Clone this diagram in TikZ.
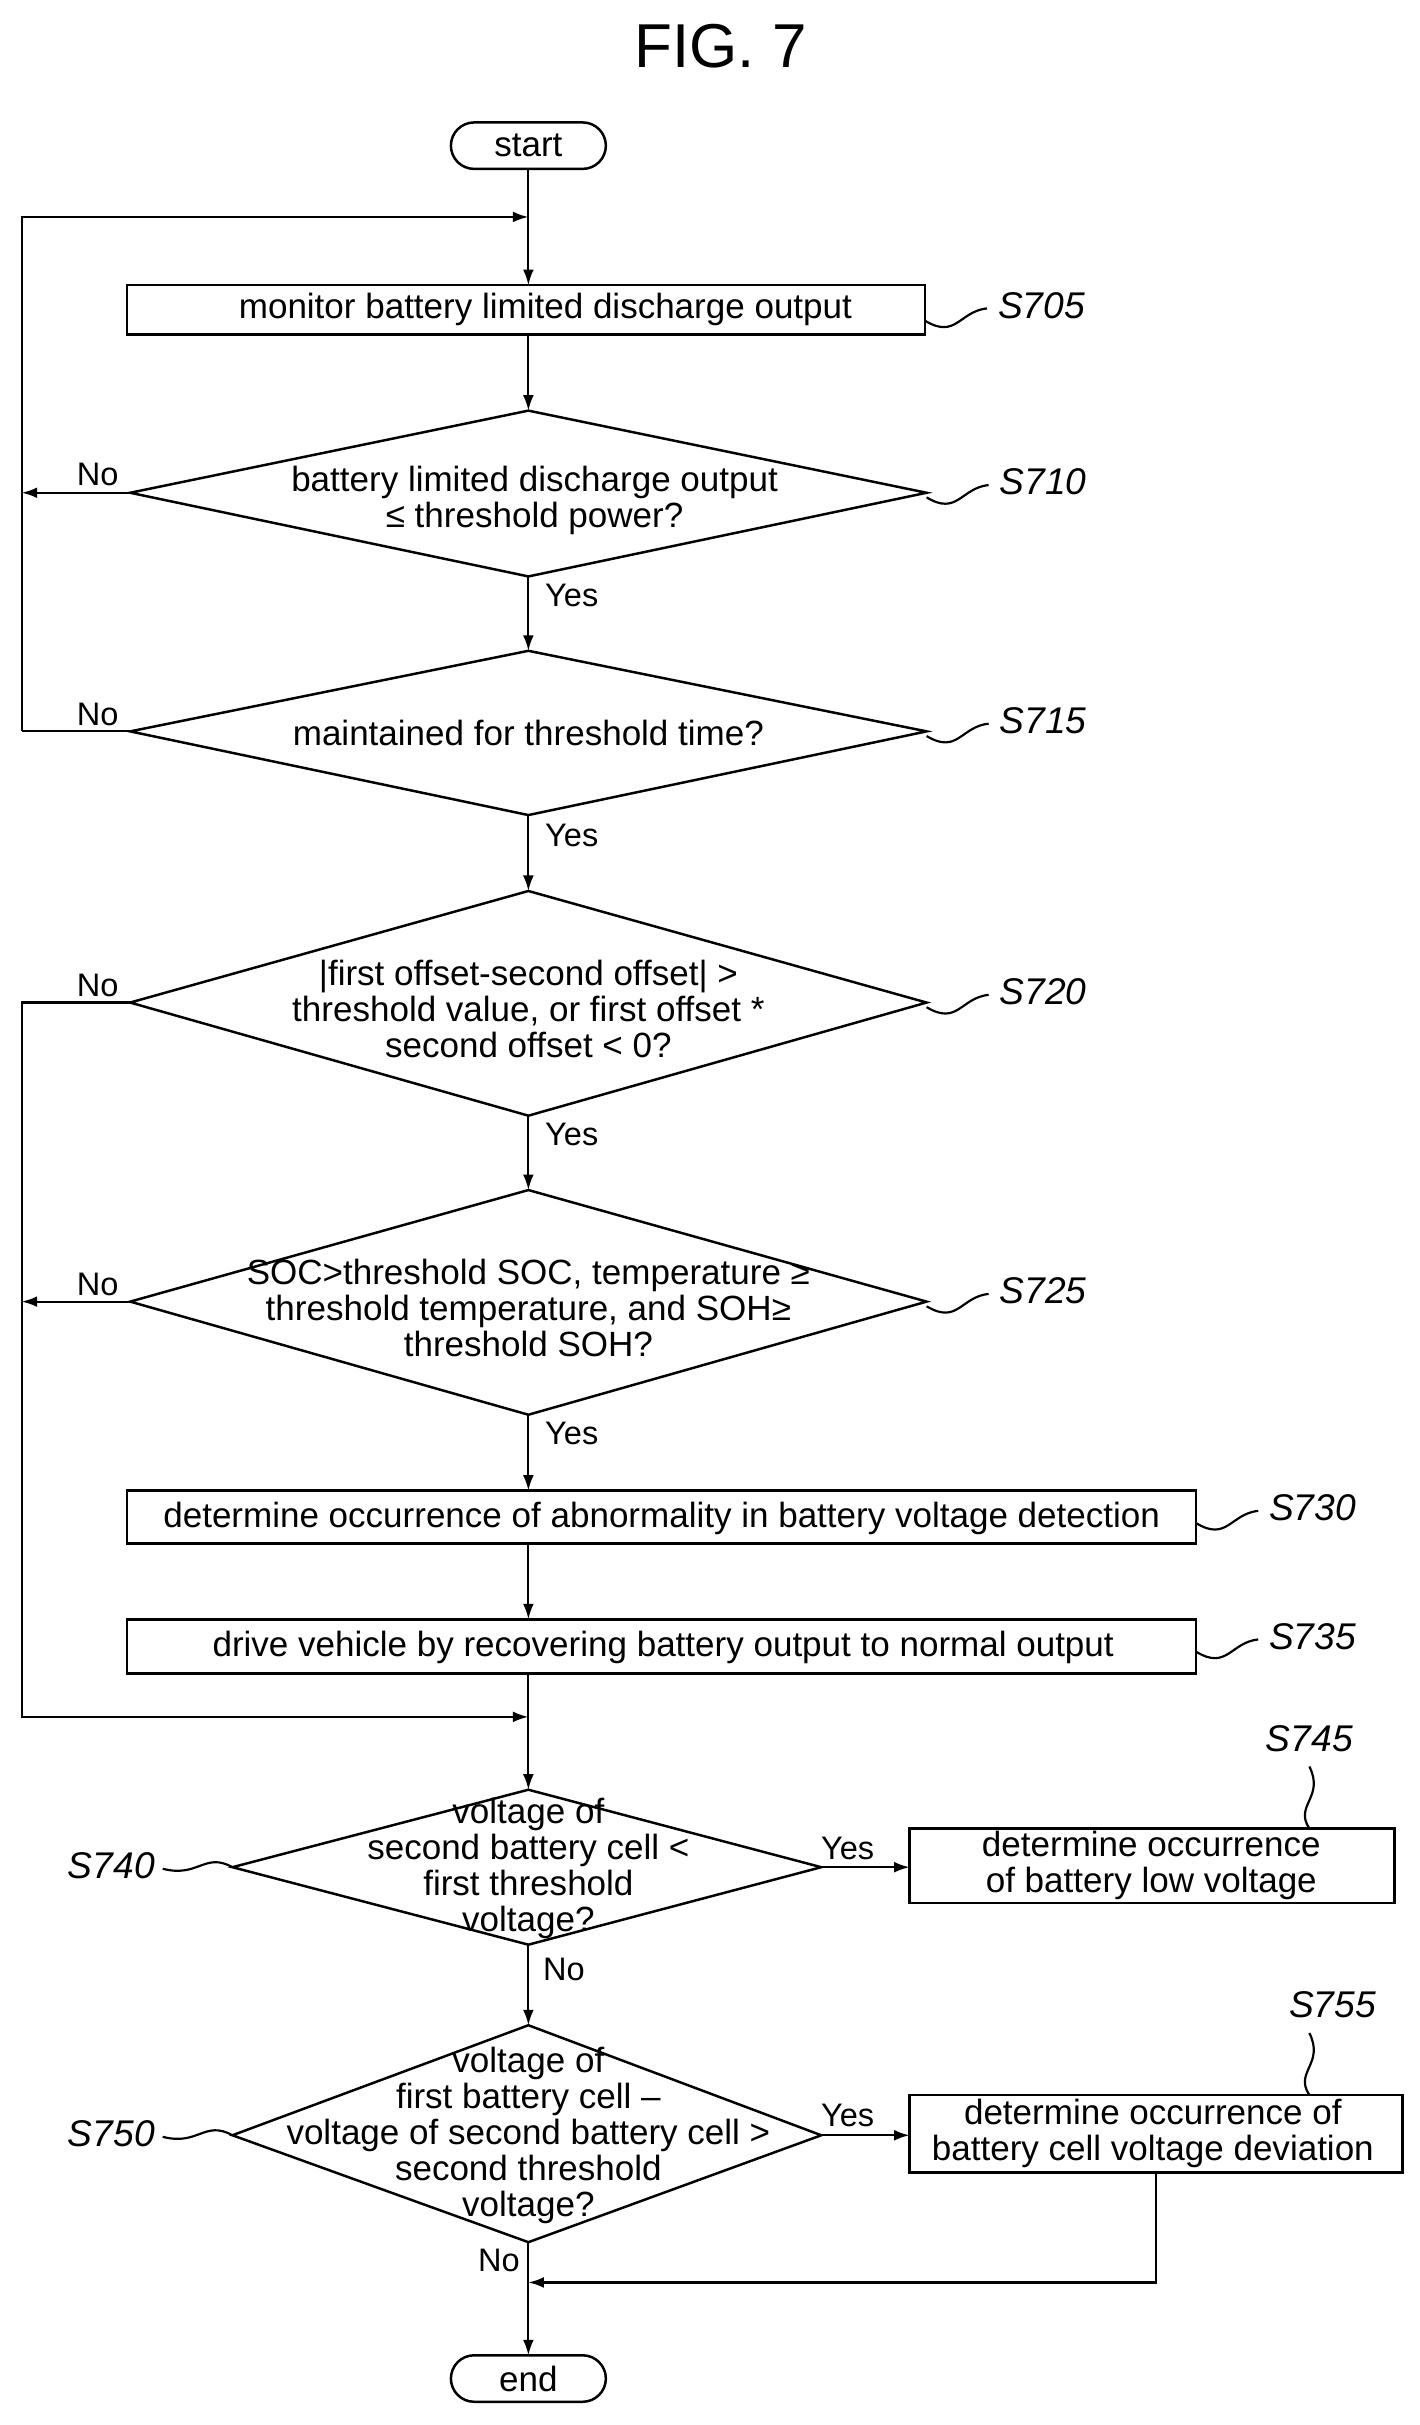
\documentclass[tikz,border=0pt]{standalone}
\usepackage{fontspec}
\setmainfont{Liberation Sans}
\usetikzlibrary{shapes.geometric,arrows.meta}
\begin{document}
\begin{tikzpicture}[x=0.5pt,y=-0.5pt,
  every node/.style={font=\fontsize{11.3}{11.6}\selectfont},
  box/.style={draw,line width=0.8pt,rectangle,inner sep=0},
  term/.style={draw,line width=0.8pt,rounded corners=7.5pt,minimum width=50pt,minimum height=15pt,inner sep=0},
  dec/.style={draw,line width=0.8pt},
  ln/.style={line width=0.7pt},
  ar/.style={line width=0.7pt,-{Latex[length=5pt,width=3.5pt]}},
  lab/.style={font=\fontsize{12}{12}\selectfont\itshape},
  yn/.style={font=\fontsize{10.5}{11}\selectfont}]
\useasboundingbox (0,0) rectangle (916,1565);
\node[font=\fontsize{20}{22}\selectfont] (title) at (465,30) {FIG. 7};
\node[term] (start) at (341,94) {start};
\node[term] (end) at (341,1535) {end};
% boxes
\draw[box] (82,184) rectangle (597,216); \node (b705) at (352,200) {monitor battery limited discharge output};
\draw[box] (82,962) rectangle (772,996); \node (b730) at (427,980) {determine occurrence of abnormality in battery voltage detection};
\draw[box] (82,1045) rectangle (772,1080); \node (b735) at (428,1063) {drive vehicle by recovering battery output to normal output};
\draw[box] (587,1180) rectangle (900,1228); \node[align=center] (b745) at (743,1204) {determine occurrence\\of battery low voltage};
\draw[box] (587,1352) rectangle (905,1402); \node[align=center] (b755) at (744,1377) {determine occurrence of\\battery cell voltage deviation};
% diamonds
\draw[dec] (341,265)--(598,318)--(341,372)--(84,318)--cycle;
\node[align=center] (d710) at (345,323) {battery limited discharge output\\≤ threshold power?};
\draw[dec] (341,420)--(598,472)--(341,526)--(84,472)--cycle;
\node (d715) at (341,473) {maintained for threshold time?};
\draw[dec] (341,575)--(598,647)--(341,720)--(84,647)--cycle;
\node[align=center] (d720) at (341,651) {|first offset-second offset| >\\threshold value, or first offset *\\second offset < 0?};
\draw[dec] (341,768)--(598,840)--(341,913)--(84,840)--cycle;
\node[align=center] (d725) at (341,844) {SOC>threshold SOC, temperature ≥\\threshold temperature, and SOH≥\\threshold SOH?};
\draw[dec] (341,1155)--(530,1205)--(341,1255)--(150,1205)--cycle;
\node[align=center] (d740) at (341,1206) {voltage of\\second battery cell <\\first threshold\\voltage?};
\draw[dec] (341,1307)--(530,1378)--(341,1447)--(150,1378)--cycle;
\node[align=center] (d750) at (341,1378) {voltage of\\first battery cell --\\voltage of second battery cell >\\second threshold\\voltage?};
% vertical flow
\draw[ar] (341,109)--(341,184);
\draw[ar] (341,216)--(341,265);
\draw[ar] (341,372)--(341,420);
\draw[ar] (341,526)--(341,575);
\draw[ar] (341,720)--(341,768);
\draw[ar] (341,913)--(341,962);
\draw[ar] (341,996)--(341,1045);
\draw[ln] (341,1080)--(341,1108);
\draw[ar] (341,1108)--(341,1155);
\draw[ar] (341,1255)--(341,1307);
\draw[ar] (341,1447)--(341,1520);
% loops
\draw[ar] (14,472)--(14,140)--(341,140);
\draw[ar] (84,318)--(14,318);
\draw[ln] (84,472)--(14,472);
\draw[ar] (84,840)--(14,840);
\draw[ar] (84,647)--(14,647)--(14,1108)--(341,1108);
\draw[ar] (530,1205)--(587,1205);
\draw[ar] (530,1378)--(587,1378);
\draw[ar] (746,1402)--(746,1473)--(341,1473);
% yes/no
\node[yn] at (63,306) {No};
\node[yn] at (63,461) {No};
\node[yn] at (63,636) {No};
\node[yn] at (63,829) {No};
\node[yn] at (369,384) {Yes};
\node[yn] at (369,539) {Yes};
\node[yn] at (369,732) {Yes};
\node[yn] at (369,925) {Yes};
\node[yn] at (364,1271) {No};
\node[yn] at (547,1193) {Yes};
\node[yn] at (547,1365) {Yes};
\node[yn] at (322,1459) {No};
% step labels
\newcommand\sq[3]{\draw[ln] (#1,#2) .. controls (#1+20,#2+12) and (#1+22,#2-6) .. (#1+40,#2-8); \node[lab,anchor=west] at (#1+40,#2-10) {#3};}
\sq{597}{207}{S705}
\sq{598}{321}{S710}
\sq{598}{475}{S715}
\sq{598}{650}{S720}
\sq{598}{843}{S725}
\sq{772}{983}{S730}
\sq{772}{1066}{S735}
\draw[ln] (150,1205) .. controls (132,1195) and (128,1212) .. (105,1206); \node[lab,anchor=east] at (107,1204) {S740};
\draw[ln] (150,1378) .. controls (132,1368) and (128,1385) .. (105,1379); \node[lab,anchor=east] at (107,1377) {S750};
\draw[ln] (845,1180) .. controls (835,1165) and (855,1160) .. (845,1140); \node[lab] at (845,1122) {S745};
\draw[ln] (845,1352) .. controls (835,1337) and (855,1332) .. (845,1312); \node[lab] at (860,1294) {S755};
\end{tikzpicture}
\end{document}
